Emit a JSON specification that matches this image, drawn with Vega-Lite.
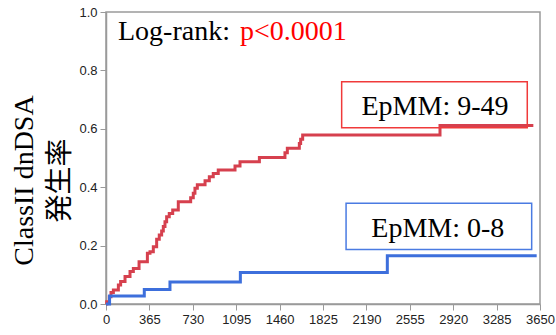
{
  "$schema": "https://vega.github.io/schema/vega-lite/v6.json",
  "width": 434,
  "height": 292,
  "autosize": {"type": "none"},
  "padding": {"left": 106, "top": 12, "right": 16, "bottom": 31},
  "background": "white",
  "config": {
    "view": {"stroke": "#9a9a9a", "strokeWidth": 1.5},
    "axis": {
      "domainColor": "#9a9a9a",
      "domainWidth": 1.5,
      "tickColor": "#9a9a9a",
      "tickWidth": 1,
      "tickSize": 6,
      "labelFont": "Liberation Sans",
      "labelFontSize": 13,
      "labelColor": "#222222",
      "labelPadding": 3,
      "grid": false
    }
  },
  "datasets": {
    "km": [
      {"group": "EpMM: 9-49", "day": 0, "value": 0},
      {"group": "EpMM: 9-49", "day": 6, "value": 0.008},
      {"group": "EpMM: 9-49", "day": 28, "value": 0.025},
      {"group": "EpMM: 9-49", "day": 42, "value": 0.039},
      {"group": "EpMM: 9-49", "day": 62, "value": 0.048},
      {"group": "EpMM: 9-49", "day": 104, "value": 0.065},
      {"group": "EpMM: 9-49", "day": 123, "value": 0.077},
      {"group": "EpMM: 9-49", "day": 160, "value": 0.094},
      {"group": "EpMM: 9-49", "day": 202, "value": 0.111},
      {"group": "EpMM: 9-49", "day": 230, "value": 0.122},
      {"group": "EpMM: 9-49", "day": 278, "value": 0.145},
      {"group": "EpMM: 9-49", "day": 348, "value": 0.174},
      {"group": "EpMM: 9-49", "day": 370, "value": 0.179},
      {"group": "EpMM: 9-49", "day": 398, "value": 0.196},
      {"group": "EpMM: 9-49", "day": 426, "value": 0.222},
      {"group": "EpMM: 9-49", "day": 448, "value": 0.236},
      {"group": "EpMM: 9-49", "day": 468, "value": 0.25},
      {"group": "EpMM: 9-49", "day": 482, "value": 0.265},
      {"group": "EpMM: 9-49", "day": 496, "value": 0.282},
      {"group": "EpMM: 9-49", "day": 510, "value": 0.299},
      {"group": "EpMM: 9-49", "day": 532, "value": 0.31},
      {"group": "EpMM: 9-49", "day": 561, "value": 0.322},
      {"group": "EpMM: 9-49", "day": 608, "value": 0.35},
      {"group": "EpMM: 9-49", "day": 712, "value": 0.364},
      {"group": "EpMM: 9-49", "day": 734, "value": 0.379},
      {"group": "EpMM: 9-49", "day": 748, "value": 0.396},
      {"group": "EpMM: 9-49", "day": 768, "value": 0.408},
      {"group": "EpMM: 9-49", "day": 833, "value": 0.422},
      {"group": "EpMM: 9-49", "day": 869, "value": 0.436},
      {"group": "EpMM: 9-49", "day": 902, "value": 0.447},
      {"group": "EpMM: 9-49", "day": 944, "value": 0.459},
      {"group": "EpMM: 9-49", "day": 1085, "value": 0.473},
      {"group": "EpMM: 9-49", "day": 1127, "value": 0.487},
      {"group": "EpMM: 9-49", "day": 1290, "value": 0.502},
      {"group": "EpMM: 9-49", "day": 1505, "value": 0.518},
      {"group": "EpMM: 9-49", "day": 1525, "value": 0.533},
      {"group": "EpMM: 9-49", "day": 1626, "value": 0.55},
      {"group": "EpMM: 9-49", "day": 1637, "value": 0.564},
      {"group": "EpMM: 9-49", "day": 1654, "value": 0.579},
      {"group": "EpMM: 9-49", "day": 2809, "value": 0.611},
      {"group": "EpMM: 9-49", "day": 3594, "value": 0.611},
      {"group": "EpMM: 0-8", "day": 0, "value": 0},
      {"group": "EpMM: 0-8", "day": 30, "value": 0.027},
      {"group": "EpMM: 0-8", "day": 322, "value": 0.05},
      {"group": "EpMM: 0-8", "day": 538, "value": 0.075},
      {"group": "EpMM: 0-8", "day": 1130, "value": 0.108},
      {"group": "EpMM: 0-8", "day": 2366, "value": 0.165},
      {"group": "EpMM: 0-8", "day": 3622, "value": 0.165}
    ],
    "boxes": [
      {"group": "EpMM: 9-49", "day": 1982, "day2": 3543, "value": 0.761, "value2": 0.604, "label_day": 2767, "label_value": 0.647},
      {"group": "EpMM: 0-8", "day": 2019, "day2": 3580, "value": 0.345, "value2": 0.187, "label_day": 2791, "label_value": 0.23}
    ],
    "notes": [
      {"part": "Log-rank: ", "day": 101, "value": 0.904},
      {"part": "p<0.0001", "day": 1127, "value": 0.904}
    ]
  },
  "layer": [
    {
      "data": {"name": "km"},
      "mark": {"type": "line", "interpolate": "step-after", "strokeWidth": 3},
      "encoding": {
        "x": {
          "field": "day", "type": "quantitative",
          "scale": {"domain": [0, 3650], "nice": false, "zero": false},
          "axis": {"title": null, "format": "d", "values": [0, 365, 730, 1095, 1460, 1825, 2190, 2555, 2920, 3285, 3650], "labelFlush": false, "labelOverlap": false}
        },
        "y": {
          "field": "value", "type": "quantitative",
          "scale": {"domain": [0, 1], "nice": false},
          "axis": {
            "title": ["ClassII dnDSA", "発生率"],
            "titleFont": "Liberation Serif, Noto Sans CJK JP",
            "titleFontSize": 28,
            "titleFontWeight": "normal",
            "titleColor": "#000000",
            "titleAngle": -90,
            "titleAlign": "center",
            "titleBaseline": "middle",
            "titleLineHeight": 36,
            "titleX": -82,
            "titleY": 168,
            "values": [0, 0.1, 0.2, 0.3, 0.4, 0.5, 0.6, 0.7, 0.8, 0.9, 1.0],
            "labelExpr": "round(datum.value*10)%2==0 ? format(datum.value,'.1f') : ''",
            "tickSize": {"condition": {"test": "round(datum.value*10)%2==1", "value": 3}, "value": 6},
            "labelOverlap": false
          }
        },
        "color": {
          "field": "group", "type": "nominal",
          "scale": {"domain": ["EpMM: 9-49", "EpMM: 0-8"], "range": ["#d6404e", "#3d6fdc"]},
          "legend": null
        }
      }
    },
    {
      "data": {"name": "boxes"},
      "mark": {"type": "rect", "fill": null, "fillOpacity": 0, "strokeWidth": 1.5},
      "encoding": {
        "x": {"field": "day", "type": "quantitative"},
        "x2": {"field": "day2"},
        "y": {"field": "value", "type": "quantitative"},
        "y2": {"field": "value2"},
        "stroke": {
          "field": "group", "type": "nominal",
          "scale": {"domain": ["EpMM: 9-49", "EpMM: 0-8"], "range": ["#f03a3a", "#4a7be2"]},
          "legend": null
        }
      }
    },
    {
      "data": {"name": "boxes"},
      "mark": {"type": "text", "font": "Liberation Serif", "fontSize": 28, "align": "center", "baseline": "alphabetic", "color": "#000000"},
      "encoding": {
        "x": {"field": "label_day", "type": "quantitative"},
        "y": {"field": "label_value", "type": "quantitative"},
        "text": {"field": "group"}
      }
    },
    {
      "data": {"name": "notes"},
      "mark": {"type": "text", "font": "Liberation Serif", "fontSize": 28, "align": "left", "baseline": "alphabetic"},
      "encoding": {
        "x": {"field": "day", "type": "quantitative"},
        "y": {"field": "value", "type": "quantitative"},
        "text": {"field": "part"},
        "fill": {
          "field": "part", "type": "nominal",
          "scale": {"domain": ["Log-rank: ", "p<0.0001"], "range": ["#000000", "#ff0000"]},
          "legend": null
        }
      }
    }
  ]
}
